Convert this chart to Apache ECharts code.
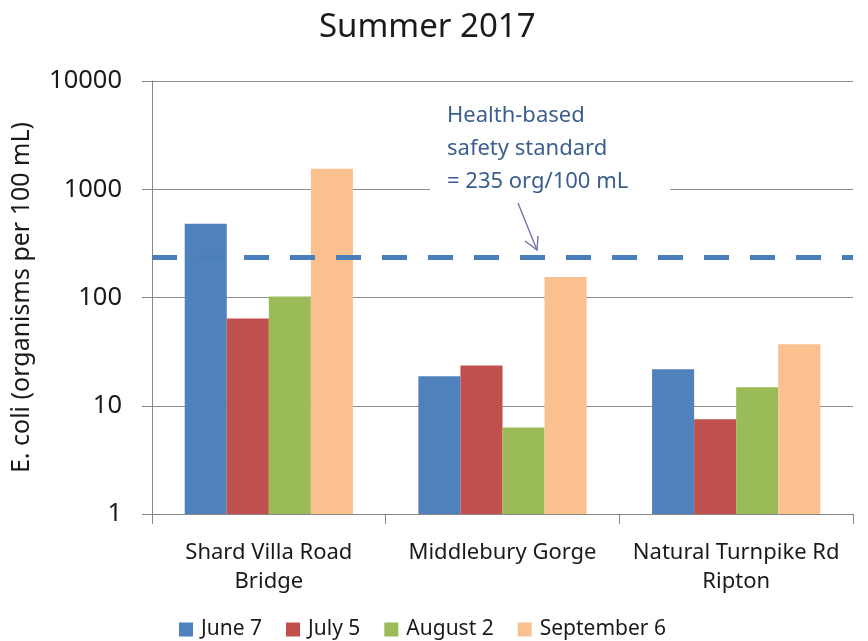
<!DOCTYPE html>
<html>
<head>
<meta charset="utf-8">
<script src="https://cdn.jsdelivr.net/npm/echarts@6/dist/echarts.min.js"></script>
<style>
  html, body { margin: 0; padding: 0; background: #fff; }
  #chart { width: 868px; height: 641px; }
</style>
</head>
<body>
<div id="chart"></div>
<script>
// sites along the x axis
const sites = ['Shard Villa Road\nBridge', 'Middlebury Gorge', 'Natural Turnpike Rd\nRipton']
const dates = ['June 7', 'July 5', 'August 2', 'September 6']
const colors = ['#4F81BD', '#C0504D', '#9BBB59', '#FAC090']

// E. coli counts per site, one array per sampling date
const june7 = [480, 18.7, 21.7]
const july5 = [64, 23.6, 7.5]
const august2 = [102, 6.3, 14.8]
const september6 = [1550, 155, 37]
const seriesValues = [june7, july5, august2, september6]

const safetyStandard = 235
const yTicks = [1, 10, 100, 1000, 10000]

const font = 'Noto Sans'
const chart = echarts.init(document.getElementById('chart'))

const series = dates.map((d, i) => ({
  name: d,
  type: 'bar',
  data: seriesValues[i],
  barGap: '0%',
  barCategoryGap: '28%',
  itemStyle: { color: colors[i] }
}))

// dashed health standard line
series[0].markLine = {
  silent: true,
  symbol: 'none',
  label: { show: false },
  lineStyle: { color: '#4A7EBB', type: [25, 21], width: 5 },
  data: [{ yAxis: safetyStandard }]
}

chart.setOption({
  animation: false,
  textStyle: { fontFamily: font },
  title: {
    text: 'Summer 2017',
    left: 314,
    top: 6,
    textStyle: { fontFamily: font, fontSize: 33, fontWeight: 'normal', color: '#1a1a1a' }
  },
  grid: { left: 152, right: 15, top: 81, bottom: 127 },
  legend: {
    top: 614,
    left: 174,
    itemWidth: 14,
    itemHeight: 14,
    itemGap: 24,
    icon: 'rect',
    textStyle: { fontFamily: font, fontSize: 21, color: '#1a1a1a', padding: [0, 0, 0, 3] },
    data: dates
  },
  xAxis: {
    type: 'category',
    data: sites,
    axisLine: { lineStyle: { color: '#868686' } },
    axisTick: { show: true, length: 10, lineStyle: { color: '#868686' } },
    axisLabel: {
      interval: 0, hideOverlap: false,
      fontFamily: font, fontSize: 22, color: '#1a1a1a', margin: 24, lineHeight: 29
    }
  },
  yAxis: {
    type: 'log',
    logBase: 10,
    min: 1,
    max: 10000,
    name: 'E. coli (organisms per 100 mL)',
    nameLocation: 'middle',
    nameGap: 118,
    nameTextStyle: { fontFamily: font, fontSize: 25, color: '#1a1a1a' },
    axisLine: { show: true, lineStyle: { color: '#868686' } },
    axisTick: { show: true, length: 10, lineStyle: { color: '#868686' } },
    splitLine: { show: true, lineStyle: { color: '#8c8c8c', width: 1 } },
    axisLabel: {
      fontFamily: font, fontSize: 25.5, color: '#1a1a1a', margin: 30,
      formatter: v => (yTicks.includes(v) ? String(v) : '')
    }
  },
  series: series,
  graphic: [
    {
      type: 'text',
      left: 430,
      top: 99,
      z: 100,
      style: {
        text: 'Health-based\nsafety standard\n= 235 org/100 mL',
        fontFamily: font,
        fontSize: 22,
        lineHeight: 33,
        fill: '#3A5F8C',
        backgroundColor: '#fff',
        padding: [0, 42, 0, 17]
      }
    },
    {
      type: 'line',
      z: 100,
      shape: { x1: 518, y1: 203, x2: 537, y2: 250 },
      style: { stroke: '#6B6FA6', lineWidth: 1.3 }
    },
    {
      type: 'polyline',
      z: 100,
      shape: { points: [[525, 241], [537, 250], [538, 236]] },
      style: { stroke: '#6B6FA6', lineWidth: 1.3, fill: null }
    }
  ]
})
</script>
</body>
</html>
